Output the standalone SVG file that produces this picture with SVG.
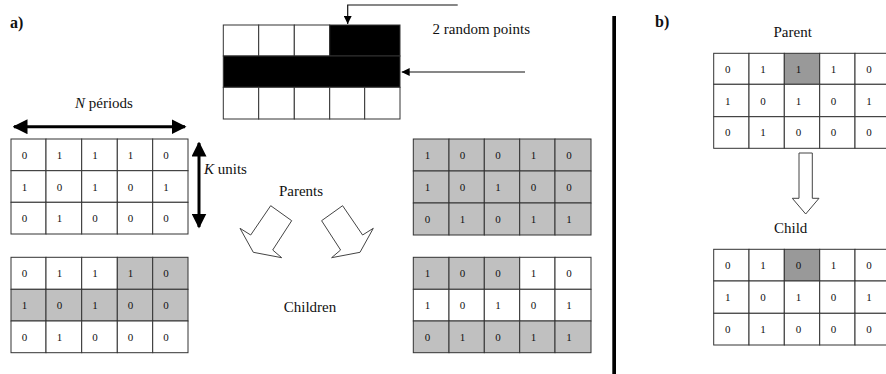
<svg xmlns="http://www.w3.org/2000/svg" width="886" height="374" viewBox="0 0 886 374" font-family="'Liberation Serif', 'Times New Roman', 'DejaVu Serif', serif">
<style>
text{font-family:'Liberation Serif','Times New Roman','DejaVu Serif',serif;fill:#111}
.lbl{font-size:15px}
.hd{font-size:16px;font-weight:bold}
.d{font-size:11px;text-anchor:middle}
.c{fill:#fff;stroke:#333;stroke-width:1}
.g{fill:#c0c0c0;stroke:#333;stroke-width:1}
.dg{fill:#999;stroke:#333;stroke-width:1}
.k{fill:#000;stroke:#333;stroke-width:1}
.thin{stroke:#111;stroke-width:1.2;fill:none}
.thick{stroke:#000;stroke-width:3;fill:none}
.hollow{fill:#fff;stroke:#444;stroke-width:1}
</style>
<defs>
<marker id="ah" viewBox="0 0 10 10" refX="10" refY="5" markerWidth="8" markerHeight="8" markerUnits="userSpaceOnUse" orient="auto"><path d="M0,0 L10,5 L0,10 z" fill="#000"/></marker>
<marker id="ahb" viewBox="0 0 10 10" refX="9" refY="5" markerWidth="5" markerHeight="5" orient="auto-start-reverse"><path d="M0,0 L10,5 L0,10 z" fill="#000"/></marker>
</defs>

<text class="hd" x="10" y="28">a)</text>
<text class="hd" x="655" y="27">b)</text>

<g id="crossover-grid">
<rect class="c" x="223.3" y="25" width="35.4" height="31"/>
<rect class="c" x="258.7" y="25" width="35.6" height="31"/>
<rect class="c" x="294.3" y="25" width="35.4" height="31"/>
<rect class="k" x="329.7" y="25" width="70.3" height="31"/>
<rect class="k" x="223.3" y="56" width="176.7" height="31.3"/>
<rect class="c" x="223.3" y="87.3" width="35.4" height="31.7"/>
<rect class="c" x="258.7" y="87.3" width="35.6" height="31.7"/>
<rect class="c" x="294.3" y="87.3" width="35.4" height="31.7"/>
<rect class="c" x="329.7" y="87.3" width="35" height="31.7"/>
<rect class="c" x="364.7" y="87.3" width="35.3" height="31.7"/>
</g>
<text class="lbl" x="432.5" y="34">2 random points</text>

<g id="connectors">
<path class="thin" d="M457.7,5 H347.7 V24" marker-end="url(#ah)"/>
<path class="thin" d="M525,72 H401.7" marker-end="url(#ah)"/>
<path class="thick" d="M14,126.7 H185" marker-start="url(#ahb)" marker-end="url(#ahb)"/>
<path class="thick" d="M199,143 V227" marker-start="url(#ahb)" marker-end="url(#ahb)"/>
<polygon class="hollow" points="270.7,205.7 291.7,220.7 272.7,250 281.7,257.7 253.3,252.3 240,228.3 250.7,235"/>
<polygon class="hollow" points="342.6,205.7 321.6,220.7 340.6,250 331.6,257.7 360,252.3 373.3,228.3 362.6,235"/>
<polygon class="hollow" points="799,153 812.3,153 812.3,198.3 819,198.3 805.7,214 792.3,198.3 799,198.3"/>
</g>
<text class="lbl" x="104" y="108" text-anchor="middle"><tspan font-style="italic">N</tspan> périods</text>
<text class="lbl" x="204" y="174"><tspan font-style="italic">K</tspan> units</text>
<text class="lbl" x="301" y="196" text-anchor="middle">Parents</text>
<text class="lbl" x="310" y="312" text-anchor="middle">Children</text>
<text class="lbl" x="792.7" y="37" text-anchor="middle">Parent</text>
<text class="lbl" x="790.7" y="233" text-anchor="middle">Child</text>

<g id="parent1">
<rect class="c" x="11" y="139" width="35" height="31.7"/><rect class="c" x="46" y="139" width="35.7" height="31.7"/><rect class="c" x="81.7" y="139" width="35.6" height="31.7"/><rect class="c" x="117.3" y="139" width="35.4" height="31.7"/><rect class="c" x="152.7" y="139" width="35.3" height="31.7"/>
<rect class="c" x="11" y="170.7" width="35" height="31.6"/><rect class="c" x="46" y="170.7" width="35.7" height="31.6"/><rect class="c" x="81.7" y="170.7" width="35.6" height="31.6"/><rect class="c" x="117.3" y="170.7" width="35.4" height="31.6"/><rect class="c" x="152.7" y="170.7" width="35.3" height="31.6"/>
<rect class="c" x="11" y="202.3" width="35" height="31.7"/><rect class="c" x="46" y="202.3" width="35.7" height="31.7"/><rect class="c" x="81.7" y="202.3" width="35.6" height="31.7"/><rect class="c" x="117.3" y="202.3" width="35.4" height="31.7"/><rect class="c" x="152.7" y="202.3" width="35.3" height="31.7"/>
<text class="d" x="24.5" y="159">0</text><text class="d" x="59.5" y="159">1</text><text class="d" x="95" y="159">1</text><text class="d" x="130.5" y="159">1</text><text class="d" x="166" y="159">0</text>
<text class="d" x="24.5" y="190.5">1</text><text class="d" x="59.5" y="190.5">0</text><text class="d" x="95" y="190.5">1</text><text class="d" x="130.5" y="190.5">0</text><text class="d" x="166" y="190.5">1</text>
<text class="d" x="24.5" y="222">0</text><text class="d" x="59.5" y="222">1</text><text class="d" x="95" y="222">0</text><text class="d" x="130.5" y="222">0</text><text class="d" x="166" y="222">0</text>
</g>

<g id="child1">
<rect class="c" x="11" y="257.3" width="35" height="32"/><rect class="c" x="46" y="257.3" width="35.7" height="32"/><rect class="c" x="81.7" y="257.3" width="35.6" height="32"/><rect class="g" x="117.3" y="257.3" width="35.4" height="32"/><rect class="g" x="152.7" y="257.3" width="35.3" height="32"/>
<rect class="g" x="11" y="289.3" width="35" height="31.7"/><rect class="g" x="46" y="289.3" width="35.7" height="31.7"/><rect class="g" x="81.7" y="289.3" width="35.6" height="31.7"/><rect class="g" x="117.3" y="289.3" width="35.4" height="31.7"/><rect class="g" x="152.7" y="289.3" width="35.3" height="31.7"/>
<rect class="c" x="11" y="321" width="35" height="31.7"/><rect class="c" x="46" y="321" width="35.7" height="31.7"/><rect class="c" x="81.7" y="321" width="35.6" height="31.7"/><rect class="c" x="117.3" y="321" width="35.4" height="31.7"/><rect class="c" x="152.7" y="321" width="35.3" height="31.7"/>
<text class="d" x="24.5" y="277">0</text><text class="d" x="59.5" y="277">1</text><text class="d" x="95" y="277">1</text><text class="d" x="130.5" y="277">1</text><text class="d" x="166" y="277">0</text>
<text class="d" x="24.5" y="309">1</text><text class="d" x="59.5" y="309">0</text><text class="d" x="95" y="309">1</text><text class="d" x="130.5" y="309">0</text><text class="d" x="166" y="309">0</text>
<text class="d" x="24.5" y="341">0</text><text class="d" x="59.5" y="341">1</text><text class="d" x="95" y="341">0</text><text class="d" x="130.5" y="341">0</text><text class="d" x="166" y="341">0</text>
</g>

<g id="parent2">
<rect class="g" x="413.3" y="139" width="35.7" height="32"/><rect class="g" x="449" y="139" width="35.3" height="32"/><rect class="g" x="484.3" y="139" width="35.4" height="32"/><rect class="g" x="519.7" y="139" width="35.3" height="32"/><rect class="g" x="555" y="139" width="36" height="32"/>
<rect class="g" x="413.3" y="171" width="35.7" height="32"/><rect class="g" x="449" y="171" width="35.3" height="32"/><rect class="g" x="484.3" y="171" width="35.4" height="32"/><rect class="g" x="519.7" y="171" width="35.3" height="32"/><rect class="g" x="555" y="171" width="36" height="32"/>
<rect class="g" x="413.3" y="203" width="35.7" height="32"/><rect class="g" x="449" y="203" width="35.3" height="32"/><rect class="g" x="484.3" y="203" width="35.4" height="32"/><rect class="g" x="519.7" y="203" width="35.3" height="32"/><rect class="g" x="555" y="203" width="36" height="32"/>
<text class="d" x="427.5" y="159">1</text><text class="d" x="462.5" y="159">0</text><text class="d" x="498" y="159">0</text><text class="d" x="533.5" y="159">1</text><text class="d" x="569" y="159">0</text>
<text class="d" x="427.5" y="191">1</text><text class="d" x="462.5" y="191">0</text><text class="d" x="498" y="191">1</text><text class="d" x="533.5" y="191">0</text><text class="d" x="569" y="191">0</text>
<text class="d" x="427.5" y="223">0</text><text class="d" x="462.5" y="223">1</text><text class="d" x="498" y="223">0</text><text class="d" x="533.5" y="223">1</text><text class="d" x="569" y="223">1</text>
</g>

<g id="child2">
<rect class="g" x="413.3" y="257.3" width="35.7" height="32"/><rect class="g" x="449" y="257.3" width="35.3" height="32"/><rect class="g" x="484.3" y="257.3" width="35.4" height="32"/><rect class="c" x="519.7" y="257.3" width="35.3" height="32"/><rect class="c" x="555" y="257.3" width="36" height="32"/>
<rect class="c" x="413.3" y="289.3" width="35.7" height="31.7"/><rect class="c" x="449" y="289.3" width="35.3" height="31.7"/><rect class="c" x="484.3" y="289.3" width="35.4" height="31.7"/><rect class="c" x="519.7" y="289.3" width="35.3" height="31.7"/><rect class="c" x="555" y="289.3" width="36" height="31.7"/>
<rect class="g" x="413.3" y="321" width="35.7" height="31.7"/><rect class="g" x="449" y="321" width="35.3" height="31.7"/><rect class="g" x="484.3" y="321" width="35.4" height="31.7"/><rect class="g" x="519.7" y="321" width="35.3" height="31.7"/><rect class="g" x="555" y="321" width="36" height="31.7"/>
<text class="d" x="427.5" y="277">1</text><text class="d" x="462.5" y="277">0</text><text class="d" x="498" y="277">0</text><text class="d" x="533.5" y="277">1</text><text class="d" x="569" y="277">0</text>
<text class="d" x="427.5" y="309">1</text><text class="d" x="462.5" y="309">0</text><text class="d" x="498" y="309">1</text><text class="d" x="533.5" y="309">0</text><text class="d" x="569" y="309">1</text>
<text class="d" x="427.5" y="341">0</text><text class="d" x="462.5" y="341">1</text><text class="d" x="498" y="341">0</text><text class="d" x="533.5" y="341">1</text><text class="d" x="569" y="341">1</text>
</g>

<rect x="612.3" y="16" width="3.7" height="358" fill="#000"/>

<g id="b-parent">
<rect class="c" x="713.7" y="53.3" width="35.3" height="31"/><rect class="c" x="749" y="53.3" width="35.3" height="31"/><rect class="dg" x="784.3" y="53.3" width="35.4" height="31"/><rect class="c" x="819.7" y="53.3" width="35.3" height="31"/><rect class="c" x="855" y="53.3" width="36" height="31"/>
<rect class="c" x="713.7" y="84.3" width="35.3" height="32.4"/><rect class="c" x="749" y="84.3" width="35.3" height="32.4"/><rect class="c" x="784.3" y="84.3" width="35.4" height="32.4"/><rect class="c" x="819.7" y="84.3" width="35.3" height="32.4"/><rect class="c" x="855" y="84.3" width="36" height="32.4"/>
<rect class="c" x="713.7" y="116.7" width="35.3" height="31.6"/><rect class="c" x="749" y="116.7" width="35.3" height="31.6"/><rect class="c" x="784.3" y="116.7" width="35.4" height="31.6"/><rect class="c" x="819.7" y="116.7" width="35.3" height="31.6"/><rect class="c" x="855" y="116.7" width="36" height="31.6"/>
<text class="d" x="727.7" y="73">0</text><text class="d" x="763" y="73">1</text><text class="d" x="798.5" y="73">1</text><text class="d" x="833.5" y="73">1</text><text class="d" x="869" y="73">0</text>
<text class="d" x="727.7" y="104.5">1</text><text class="d" x="763" y="104.5">0</text><text class="d" x="798.5" y="104.5">1</text><text class="d" x="833.5" y="104.5">0</text><text class="d" x="869" y="104.5">1</text>
<text class="d" x="727.7" y="136">0</text><text class="d" x="763" y="136">1</text><text class="d" x="798.5" y="136">0</text><text class="d" x="833.5" y="136">0</text><text class="d" x="869" y="136">0</text>
</g>

<g id="b-child">
<rect class="c" x="713.7" y="249.3" width="35.3" height="31.7"/><rect class="c" x="749" y="249.3" width="35.3" height="31.7"/><rect class="dg" x="784.3" y="249.3" width="35.4" height="31.7"/><rect class="c" x="819.7" y="249.3" width="35.3" height="31.7"/><rect class="c" x="855" y="249.3" width="36" height="31.7"/>
<rect class="c" x="713.7" y="281" width="35.3" height="32.3"/><rect class="c" x="749" y="281" width="35.3" height="32.3"/><rect class="c" x="784.3" y="281" width="35.4" height="32.3"/><rect class="c" x="819.7" y="281" width="35.3" height="32.3"/><rect class="c" x="855" y="281" width="36" height="32.3"/>
<rect class="c" x="713.7" y="313.3" width="35.3" height="31.7"/><rect class="c" x="749" y="313.3" width="35.3" height="31.7"/><rect class="c" x="784.3" y="313.3" width="35.4" height="31.7"/><rect class="c" x="819.7" y="313.3" width="35.3" height="31.7"/><rect class="c" x="855" y="313.3" width="36" height="31.7"/>
<text class="d" x="727.7" y="269">0</text><text class="d" x="763" y="269">1</text><text class="d" x="798.5" y="269">0</text><text class="d" x="833.5" y="269">1</text><text class="d" x="869" y="269">0</text>
<text class="d" x="727.7" y="301">1</text><text class="d" x="763" y="301">0</text><text class="d" x="798.5" y="301">1</text><text class="d" x="833.5" y="301">0</text><text class="d" x="869" y="301">1</text>
<text class="d" x="727.7" y="333">0</text><text class="d" x="763" y="333">1</text><text class="d" x="798.5" y="333">0</text><text class="d" x="833.5" y="333">0</text><text class="d" x="869" y="333">0</text>
</g>
</svg>
